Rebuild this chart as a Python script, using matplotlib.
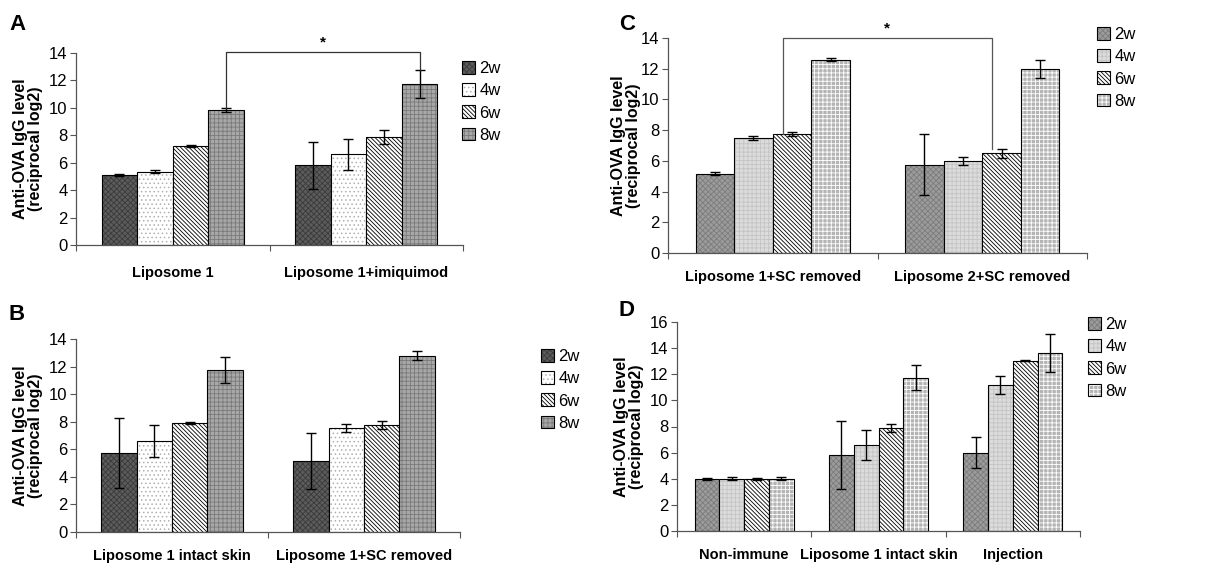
import matplotlib.pyplot as plt
import numpy as np

plt.rcParams['font.family'] = ['Liberation Sans', 'DejaVu Sans']
plt.rcParams['hatch.linewidth'] = 0.6

weeks = ['2w', '4w', '6w', '8w']

# panel A
cats_a = ['Liposome 1', 'Liposome 1+imiquimod']
vals_a = [[5.1, 5.8], [5.35, 6.6], [7.25, 7.9], [9.85, 11.75]]
errs_a = [[0.1, 1.7], [0.1, 1.15], [0.07, 0.5], [0.15, 1.0]]

# panel B
cats_b = ['Liposome 1 intact skin', 'Liposome 1+SC removed']
vals_b = [[5.75, 5.15], [6.6, 7.55], [7.9, 7.75], [11.75, 12.8]]
errs_b = [[2.55, 2.0], [1.15, 0.3], [0.05, 0.3], [0.95, 0.3]]

# panel C
cats_c = ['Liposome 1+SC removed', 'Liposome 2+SC removed']
vals_c = [[5.15, 5.75], [7.5, 6.0], [7.75, 6.5], [12.6, 12.0]]
errs_c = [[0.1, 2.0], [0.12, 0.25], [0.1, 0.3], [0.12, 0.6]]

# panel D
cats_d = ['Non-immune', 'Liposome 1 intact skin', 'Injection']
vals_d = [[4.0, 5.8, 6.0], [4.0, 6.6, 11.2], [4.0, 7.9, 13.05], [4.0, 11.75, 13.6]]
errs_d = [[0.08, 2.6, 1.2], [0.12, 1.15, 0.7], [0.06, 0.3, 0.05], [0.1, 0.95, 1.45]]

# (face, hatch colour, hatch) per week
style_dark = [('#5c5c5c', '#3a3a3a', 'xxxxxx'),
              ('#ffffff', '#b0b0b0', '....'),
              ('#ffffff', '#000000', '\\\\\\\\\\\\\\\\'),
              ('#a8a8a8', '#7a7a7a', '++++')]
style_light = [('#9c9c9c', '#7c7c7c', 'xxxxxx'),
               ('#dcdcdc', '#c4c4c4', '++++'),
               ('#ffffff', '#000000', '\\\\\\\\\\\\\\\\'),
               ('#b4b4b4', '#ffffff', '++++')]

W = 1223
H = 565
fig = plt.figure(figsize=(W / 100, H / 100), dpi=100)


def px_axes(l, t, r, b):
    return fig.add_axes([l / W, 1 - b / H, (r - l) / W, (b - t) / H])


def panel(ax, cats, vals, errs, styles, ymax, leg_xy, letter, letter_xy, ylpad, xpad):
    n = len(cats)
    bw = 0.184
    x = np.arange(n) + 0.5
    centers = []
    handles = []
    for i, wk in enumerate(weeks):
        fc, hc, hat = styles[i]
        pos = x + (i - 1.5) * bw
        centers.append(pos)
        b1 = ax.bar(pos, vals[i], bw, color=fc, edgecolor=hc, hatch=hat, linewidth=0)
        b2 = ax.bar(pos, vals[i], bw, color='none', edgecolor='black', linewidth=0.8)
        handles.append((b1.patches[0], b2.patches[0]))
        ax.errorbar(pos, vals[i], yerr=errs[i], fmt='none', ecolor='black',
                    elinewidth=1, capsize=3.5, capthick=1)
    ax.set_xlim(0, n)
    ax.set_ylim(0, ymax)
    ax.set_yticks(np.arange(0, ymax + 1, 2))
    ax.set_xticks(np.arange(0, n + 1))
    ax.set_xticklabels([])
    ax.set_xticks(x, minor=True)
    ax.set_xticklabels(cats, minor=True, fontsize=10.5, fontweight='bold')
    ax.tick_params(axis='x', which='minor', length=0, pad=xpad)
    ax.tick_params(axis='x', which='major', length=4, direction='out', color='#555555')
    ax.tick_params(axis='y', length=4, labelsize=12, pad=2, color='#555555')
    for s in ['top', 'right']:
        ax.spines[s].set_visible(False)
    for s in ['left', 'bottom']:
        ax.spines[s].set_color('#555555')
        ax.spines[s].set_linewidth(0.9)
    ax.set_ylabel('Anti-OVA IgG level\n(reciprocal log2)', fontsize=11.5,
                  fontweight='bold', labelpad=ylpad, linespacing=1.0)
    fig.legend(handles, weeks, loc='upper left',
               bbox_to_anchor=(leg_xy[0] / W, 1 - leg_xy[1] / H), frameon=False,
               fontsize=12, handlelength=0.8, handleheight=0.8, handletextpad=0.25,
               labelspacing=0.42, borderaxespad=0, borderpad=0)
    fig.text(letter_xy[0] / W, 1 - letter_xy[1] / H, letter, fontsize=16,
             fontweight='bold', va='center', ha='left')
    return centers


ax_a = px_axes(76, 53, 463, 245)
c_a = panel(ax_a, cats_a, vals_a, errs_a, style_dark, 14, (462, 61), 'A', (9, 25), 4, 15)
xl, xr = c_a[3][0], c_a[3][1]
ax_a.plot([xl, xl, xr, xr], [vals_a[3][0] + errs_a[3][0], 14.1, 14.1, vals_a[3][1] + errs_a[3][1]],
          color='#333333', lw=0.9, clip_on=False)
ax_a.text((xl + xr) / 2, 14.25, '*', ha='center', va='bottom', fontsize=11, fontweight='bold')

ax_b = px_axes(76, 339, 460, 532)
panel(ax_b, cats_b, vals_b, errs_b, style_dark, 14, (541, 349), 'B', (9, 314), 4, 12)

ax_c = px_axes(668, 38, 1087, 253)
c_c = panel(ax_c, cats_c, vals_c, errs_c, style_light, 14, (1097, 27), 'C', (619, 24), 0, 12)
xl, xr = c_c[2][0] - 0.045, c_c[2][1] - 0.045
ax_c.plot([xl, xl, xr, xr], [vals_c[2][0], 14.0, 14.0, vals_c[2][1] + errs_c[2][1]],
          color='#555555', lw=0.9, clip_on=False)
ax_c.text((xl + xr) / 2, 14.15, '*', ha='center', va='bottom', fontsize=11, fontweight='bold')

ax_d = px_axes(677, 322, 1080, 531)
panel(ax_d, cats_d, vals_d, errs_d, style_light, 16, (1088, 317), 'D', (619, 311), 4, 12)

fig.savefig('out.png', dpi=100)
